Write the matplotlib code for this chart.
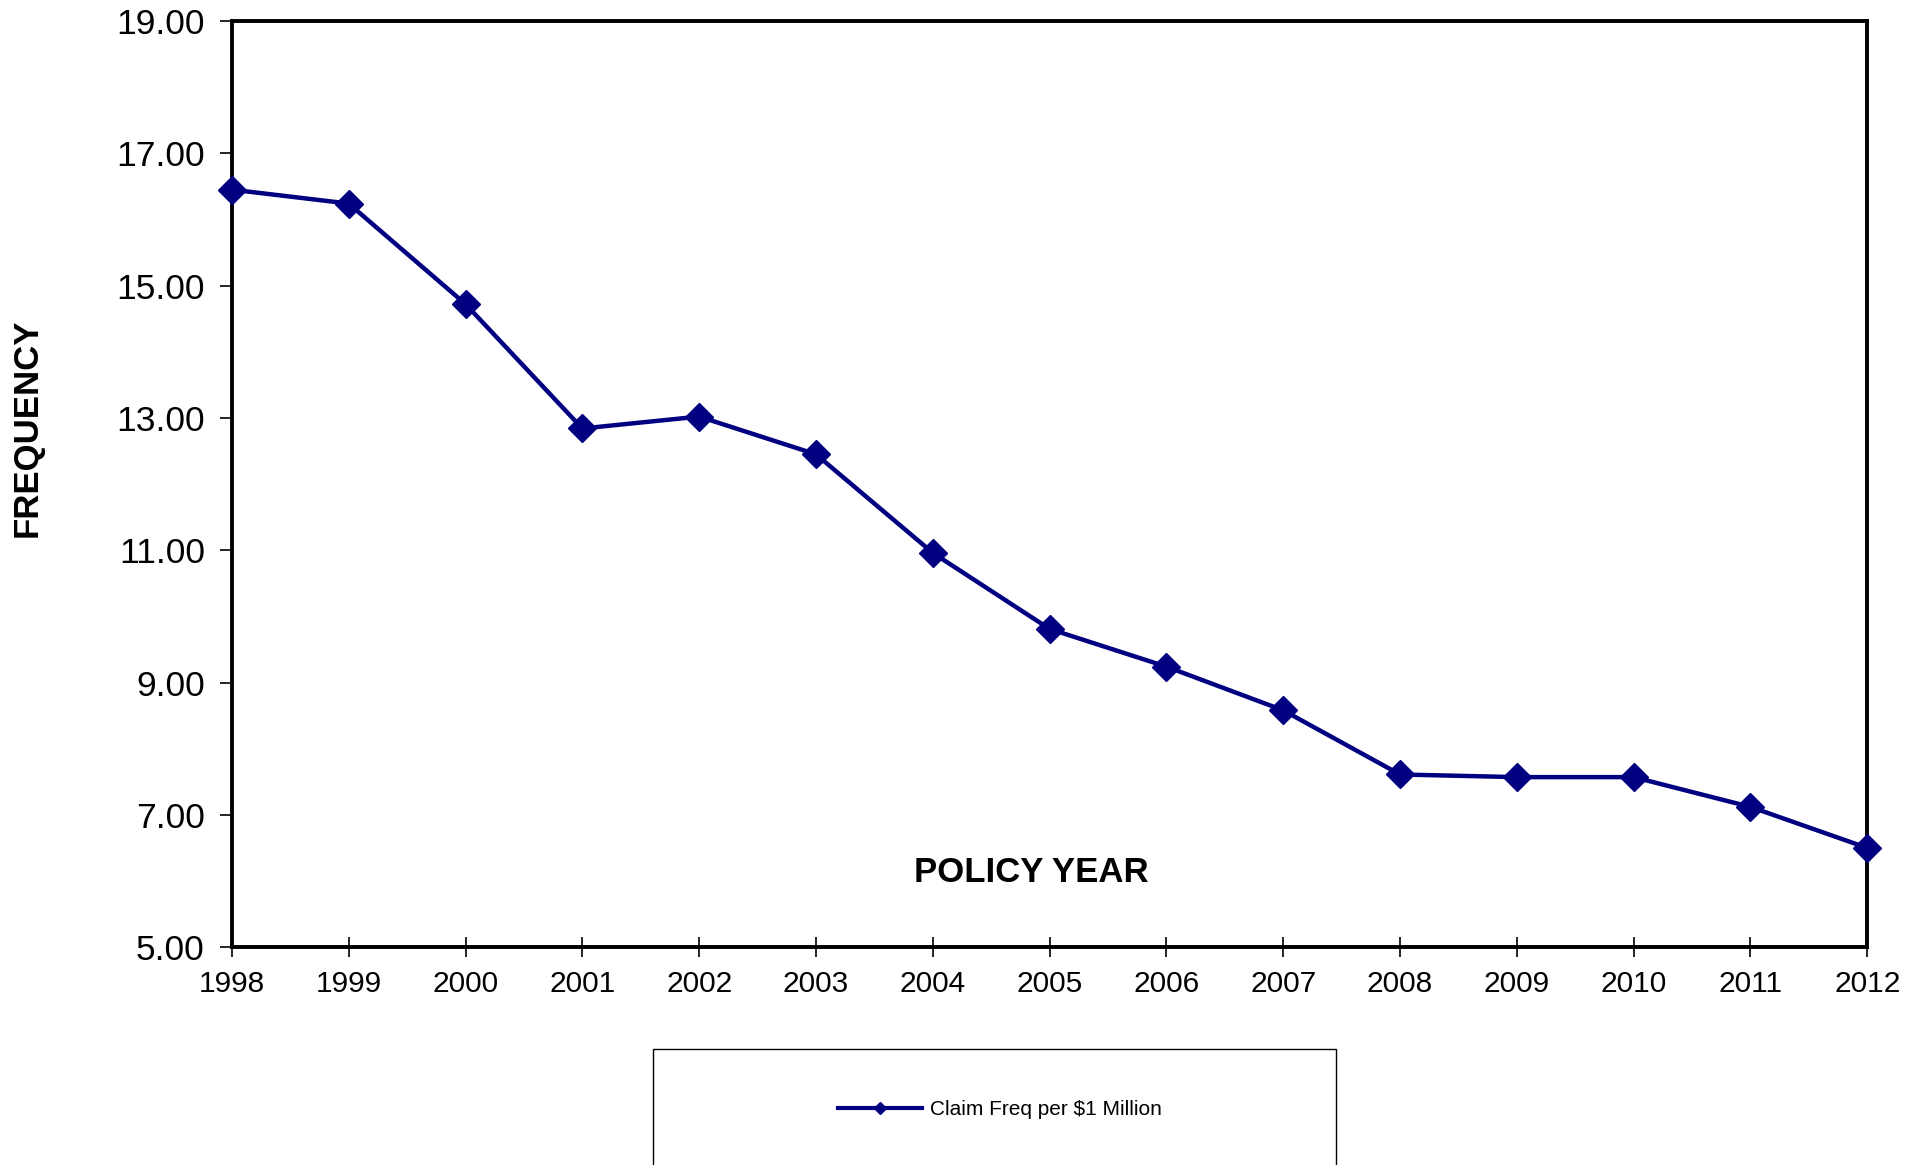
import matplotlib
matplotlib.use("Agg")
import matplotlib.pyplot as plt
from matplotlib.lines import Line2D
from matplotlib.patches import Rectangle

plt.rcParams['font.family'] = ['Liberation Sans', 'DejaVu Sans']

# policy years and claim frequency per $1 million
years = [1998, 1999, 2000, 2001, 2002, 2003, 2004, 2005, 2006, 2007, 2008, 2009, 2010, 2011, 2012]
freq = [16.45, 16.24, 14.72, 12.84, 13.02, 12.45, 10.96, 9.81, 9.24, 8.58, 7.61, 7.57, 7.57, 7.12, 6.50]
y_ticks = [5, 7, 9, 11, 13, 15, 17, 19]
series_name = 'Claim Freq per $1 Million'

navy = '#000080'

fig = plt.figure(figsize=(19.23, 11.65), dpi=100)
ax = fig.add_axes([0.1206, 0.187, 0.8504, 0.795])

ax.plot(years, freq, color=navy, lw=3.2, marker='D', ms=14.5,
        markerfacecolor=navy, markeredgecolor=navy, clip_on=False, zorder=3)

ax.set_xlim(years[0], years[-1])
ax.set_ylim(y_ticks[0], y_ticks[-1])
ax.set_xticks(years)
ax.set_xticklabels([str(y) for y in years], fontsize=21.5)
ax.set_yticks(y_ticks)
ax.set_yticklabels(['%.2f' % v for v in y_ticks], fontsize=25.5)

ax.tick_params(axis='x', direction='inout', length=14, width=1.2, pad=9.5)
ax.tick_params(axis='y', direction='out', length=9, width=1.2, pad=10.5)
for s in ax.spines.values():
    s.set_linewidth(2.8)
    s.set_color('black')

fig.text(0.014, 0.633, 'FREQUENCY', rotation=90, fontsize=25, fontweight='bold',
         ha='center', va='center')
fig.text(0.5365, 0.251, 'POLICY YEAR', fontsize=25, fontweight='bold',
         ha='center', va='center')

# legend box at the bottom (cut off by the figure edge)
box = Rectangle((0.3398, -0.02), 0.3548, 0.1195, transform=fig.transFigure,
                fill=False, edgecolor='black', lw=1.0)
fig.patches.append(box)

handle = Line2D([], [], color=navy, lw=3, marker='D', ms=6,
                markerfacecolor=navy, markeredgecolor=navy)
fig.legend([handle], [series_name], loc='center left',
           bbox_to_anchor=(0.436, 0.0478), frameon=False, fontsize=15,
           handlelength=4.0, handletextpad=0.4, borderpad=0, borderaxespad=0)

fig.savefig('out.png', dpi=100)
